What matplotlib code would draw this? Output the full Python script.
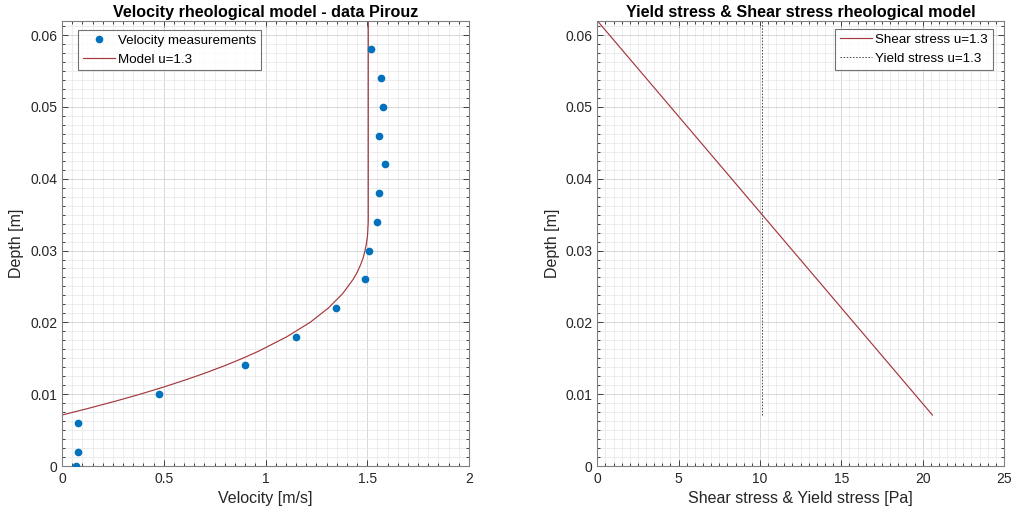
import matplotlib
matplotlib.use("Agg")
import matplotlib.pyplot as plt
from matplotlib.ticker import MultipleLocator, FuncFormatter

plt.rcParams['font.family'] = ['Liberation Sans', 'DejaVu Sans']

# ---- data: velocity measurements ----
meas_velocity = [1.517, 1.569, 1.579, 1.559, 1.587, 1.559, 1.550, 1.510,
                 1.489, 1.348, 1.150, 0.899, 0.478, 0.080, 0.080, 0.067]
meas_depth = [0.058, 0.054, 0.050, 0.046, 0.042, 0.038, 0.034, 0.030,
              0.026, 0.022, 0.018, 0.014, 0.010, 0.006, 0.002, 0.000]

# ---- model curve ----
model_depth = [0.0071, 0.008, 0.009, 0.010, 0.011, 0.012, 0.013, 0.014, 0.015,
               0.016, 0.018, 0.020, 0.022, 0.024, 0.026, 0.027, 0.028, 0.029,
               0.030, 0.031, 0.032, 0.033, 0.034, 0.0352, 0.062]
model_velocity = [0.0, 0.126, 0.259, 0.384, 0.500, 0.608, 0.709, 0.802, 0.888,
                  0.967, 1.105, 1.219, 1.309, 1.379, 1.431, 1.451, 1.467, 1.480,
                  1.489, 1.496, 1.501, 1.503, 1.505, 1.505, 1.505]

# ---- shear / yield stress ----
shear_stress = [0.0, 20.6]
shear_depth = [0.062, 0.0071]
yield_stress = [10.1, 10.1]
yield_depth = [0.0071, 0.062]

blue = (0.0, 0.447, 0.741)
red = (0.64, 0.22, 0.24)
txt = (0.15, 0.15, 0.15)

fig = plt.figure(figsize=(10.13, 5.12), dpi=100)
axL = fig.add_axes([0.0612, 0.0898, 0.4018, 0.8698])
axR = fig.add_axes([0.5896, 0.0898, 0.4015, 0.8698])

axL.plot(meas_velocity, meas_depth, 'o', color=blue, ms=4.5, mec=blue,
         label='Velocity measurements', zorder=3)
axL.plot(model_velocity, model_depth, '-', color=red, lw=0.85, label='Model u=1.3', zorder=2)

axR.plot(shear_stress, shear_depth, '-', color=red, lw=0.85, label='Shear stress u=1.3')
axR.plot(yield_stress, yield_depth, linestyle=(0, (1.6, 1.6)), color=(0.3, 0.3, 0.3),
         lw=0.7, label='Yield stress u=1.3')

fmt = FuncFormatter(lambda v, p: ('%g' % round(v, 6)))

def style(ax, xmax, xmaj, xmin, xlabel, title):
    ax.set_xlim(0, xmax)
    ax.set_ylim(0, 0.062)
    ax.xaxis.set_major_locator(MultipleLocator(xmaj))
    ax.xaxis.set_minor_locator(MultipleLocator(xmin))
    ax.yaxis.set_major_locator(MultipleLocator(0.01))
    ax.yaxis.set_minor_locator(MultipleLocator(0.00125))
    ax.xaxis.set_major_formatter(fmt)
    ax.yaxis.set_major_formatter(fmt)
    ax.grid(True, which='major', color=(0.82, 0.82, 0.82), lw=0.6)
    ax.grid(True, which='minor', color=(0.90, 0.90, 0.90), lw=0.5)
    ax.set_axisbelow(True)
    ax.tick_params(which='both', direction='in', top=True, right=True,
                   colors=txt, labelsize=10, width=0.6)
    ax.tick_params(which='major', length=4)
    ax.tick_params(which='minor', length=2)
    for s in ax.spines.values():
        s.set_color((0.5, 0.5, 0.5))
        s.set_linewidth(0.8)
    ax.set_xlabel(xlabel, fontsize=11.5, color=txt, labelpad=4)
    ax.set_ylabel('Depth [m]', fontsize=11.5, color=txt, labelpad=4)
    ax.set_title(title, fontsize=11.6, fontweight='bold', color='black', pad=3)
    ax.tick_params(axis='x', pad=4)

style(axL, 2, 0.5, 0.05, 'Velocity [m/s]', 'Velocity rheological model - data Pirouz')
style(axR, 25, 5, 0.5, 'Shear stress & Yield stress [Pa]', 'Yield stress & Shear stress rheological model')

legL = axL.legend(loc='upper left', bbox_to_anchor=(0.039, 0.979), fontsize=9.6,
                  frameon=True, fancybox=False, edgecolor=(0.3, 0.3, 0.3),
                  borderpad=0.35, handlelength=2.4, handletextpad=0.25, labelspacing=0.48,
                  borderaxespad=0)
legL.get_frame().set_linewidth(0.8)
legR = axR.legend(loc='upper right', bbox_to_anchor=(0.972, 0.981), fontsize=9.6,
                  frameon=True, fancybox=False, edgecolor=(0.3, 0.3, 0.3),
                  borderpad=0.35, handlelength=2.4, handletextpad=0.25, labelspacing=0.48,
                  borderaxespad=0)
legR.get_frame().set_linewidth(0.8)

fig.savefig('out.png', dpi=100)
